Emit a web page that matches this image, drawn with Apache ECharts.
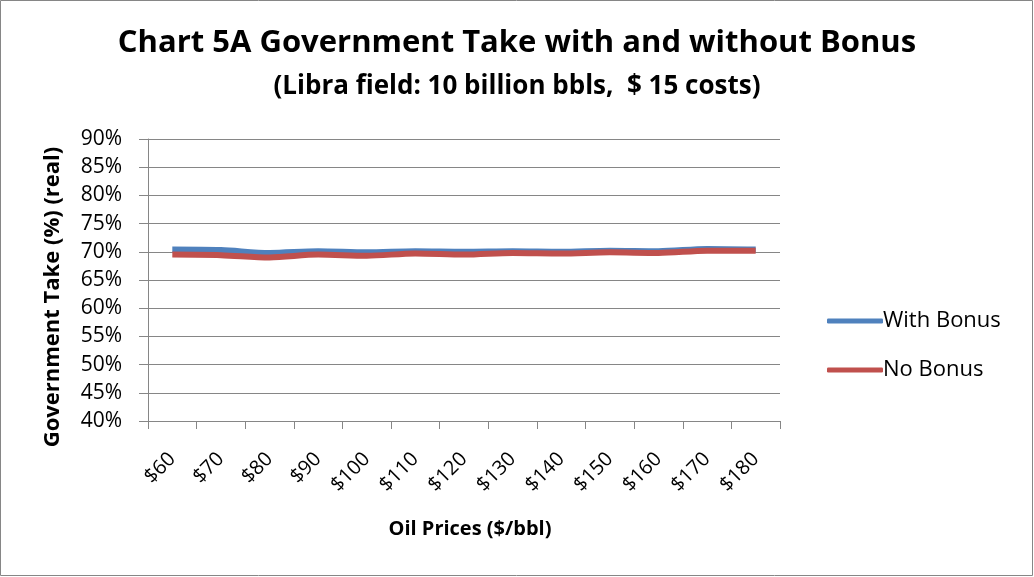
<!DOCTYPE html>
<html><head><meta charset="utf-8">
<script src="https://cdn.jsdelivr.net/npm/echarts@6/dist/echarts.min.js"></script>
<style>html,body{margin:0;padding:0;background:#fff}#c{width:1034px;height:577px}</style>
</head><body><div id="c"></div>
<script>
const categories = ['$60','$70','$80','$90','$100','$110','$120','$130','$140','$150','$160','$170','$180'];
const withBonus = [70.4, 70.3, 69.8, 70.1, 69.9, 70.1, 70.0, 70.1, 70.0, 70.2, 70.1, 70.5, 70.4];
const noBonus = [69.5, 69.4, 69.0, 69.5, 69.3, 69.7, 69.5, 69.8, 69.7, 69.9, 69.8, 70.2, 70.2];
const yTicks = [40, 45, 50, 55, 60, 65, 70, 75, 80, 85, 90];

const FONT = '"Open Sans", "DejaVu Sans", sans-serif';
const chart = echarts.init(document.getElementById('c'));
chart.setOption({
  backgroundColor: '#fff',
  animation: false,
  title: [
    {text: 'Chart 5A Government Take with and without Bonus', left: 'center', top: 23,
     textStyle: {fontFamily: FONT, fontSize: 31, fontWeight: 'bold', color: '#000'}},
    {text: '(Libra field: 10 billion bbls,  $ 15 costs)', left: 'center', top: 69,
     textStyle: {fontFamily: FONT, fontSize: 26, fontWeight: 'bold', color: '#000'}}
  ],
  graphic: [
    {type: 'rect', shape: {x: 0.5, y: 0.5, width: 1032, height: 575},
     style: {fill: 'none', stroke: '#868686', lineWidth: 1}},
    {type: 'text', x: 53, y: 297, rotation: Math.PI / 2,
     style: {text: 'Government Take (%) (real)', align: 'center', verticalAlign: 'middle',
       font: 'bold 22px "Open Sans", "DejaVu Sans", sans-serif', fill: '#000'}}
  ],
  legend: {
    orient: 'vertical', left: 822, top: 305, itemGap: 27, itemWidth: 56, itemHeight: 5,
    icon: 'roundRect',
    textStyle: {fontFamily: FONT, fontSize: 22, color: '#000', padding: [0, 0, 0, -5]},
    data: ['With Bonus', 'No Bonus']
  },
  grid: {left: 148, right: 254, top: 139, bottom: 156, containLabel: false},
  xAxis: {
    type: 'category', data: categories, boundaryGap: true,
    name: 'Oil Prices ($/bbl)', nameLocation: 'middle', nameGap: 98,
    nameTextStyle: {fontFamily: FONT, fontSize: 20, fontWeight: 'bold', color: '#000', padding: [0, 0, 0, 12]},
    axisLine: {lineStyle: {color: '#868686', width: 1}},
    axisTick: {show: true, length: 8, alignWithLabel: false, lineStyle: {color: '#868686'}},
    axisLabel: {rotate: 45, fontFamily: FONT, fontSize: 20, color: '#000', margin: 35}
  },
  yAxis: {
    type: 'value', min: 40, max: 90, interval: 5,
    axisLine: {show: true, lineStyle: {color: '#868686', width: 1}},
    axisTick: {show: true, length: 9, inside: false, lineStyle: {color: '#868686'}},
    splitLine: {show: true, lineStyle: {color: '#868686', width: 1}},
    axisLabel: {fontFamily: FONT, fontSize: 21, color: '#000', margin: 26,
      formatter: v => yTicks.includes(v) ? v + '%' : ''}
  },
  series: [
    {name: 'With Bonus', type: 'line', data: withBonus, symbol: 'none', smooth: 0.3,
     lineStyle: {color: '#4F81BD', width: 6}, itemStyle: {color: '#4F81BD'}, z: 3},
    {name: 'No Bonus', type: 'line', data: noBonus, symbol: 'none', smooth: 0.3,
     lineStyle: {color: '#C0504D', width: 6}, itemStyle: {color: '#C0504D'}, z: 4}
  ]
});
</script></body></html>
